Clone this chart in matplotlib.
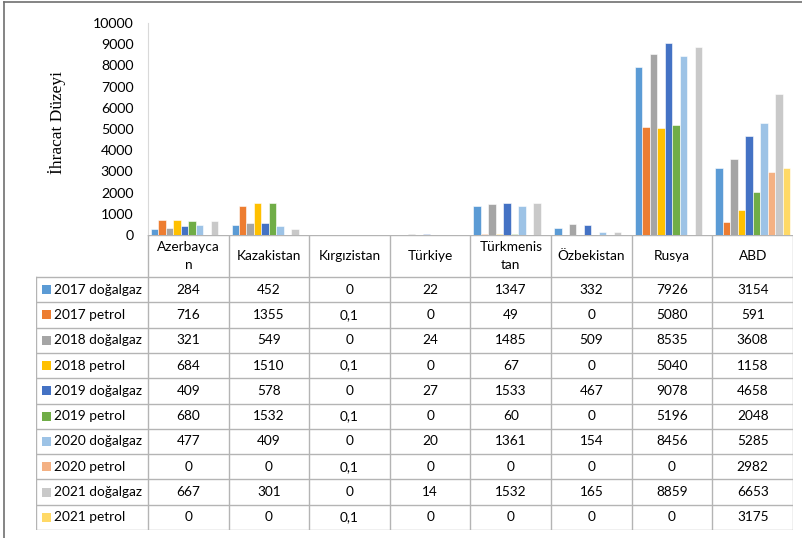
import matplotlib.pyplot as plt
from matplotlib.patches import Rectangle
from matplotlib.lines import Line2D
import numpy as np

countries = ["Azerbaycan", "Kazakistan", "Kırgızistan", "Türkiye",
             "Türkmenistan", "Özbekistan", "Rusya", "ABD"]
header_labels = ["Azerbayca\nn", "Kazakistan", "Kırgızistan", "Türkiye",
                 "Türkmenis\ntan", "Özbekistan", "Rusya", "ABD"]

series_names = ["2017 doğalgaz", "2017 petrol", "2018 doğalgaz", "2018 petrol",
                "2019 doğalgaz", "2019 petrol", "2020 doğalgaz", "2020 petrol",
                "2021 doğalgaz", "2021 petrol"]

gaz_2017 = [284, 452, 0, 22, 1347, 332, 7926, 3154]
petrol_2017 = [716, 1355, 0.1, 0, 49, 0, 5080, 591]
gaz_2018 = [321, 549, 0, 24, 1485, 509, 8535, 3608]
petrol_2018 = [684, 1510, 0.1, 0, 67, 0, 5040, 1158]
gaz_2019 = [409, 578, 0, 27, 1533, 467, 9078, 4658]
petrol_2019 = [680, 1532, 0.1, 0, 60, 0, 5196, 2048]
gaz_2020 = [477, 409, 0, 20, 1361, 154, 8456, 5285]
petrol_2020 = [0, 0, 0.1, 0, 0, 0, 0, 2982]
gaz_2021 = [667, 301, 0, 14, 1532, 165, 8859, 6653]
petrol_2021 = [0, 0, 0.1, 0, 0, 0, 0, 3175]

series_values = [gaz_2017, petrol_2017, gaz_2018, petrol_2018, gaz_2019,
                 petrol_2019, gaz_2020, petrol_2020, gaz_2021, petrol_2021]

colors = ["#5B9BD5", "#ED7D31", "#A5A5A5", "#FFC000", "#4472C4",
          "#70AD47", "#9DC3E6", "#F4B183", "#C9C9C9", "#FFD966"]

W, H = 803, 538
font = "Lato"
fs = 9.8
grid_col = "#b4b4b4"

fig = plt.figure(figsize=(W / 100, H / 100), dpi=100)

# outer frame (left and top only visible)
fig.add_artist(Line2D([4 / W, 4 / W], [0, 1 - 2 / H], color="#707070", lw=1.2))
fig.add_artist(Line2D([4 / W, 1], [1 - 2 / H, 1 - 2 / H], color="#707070", lw=1.2))

# bar chart
ax = fig.add_axes([148 / W, 1 - 235 / H, (793 - 148) / W, (235 - 23) / H])
n = len(series_names)
group = 0.928
bw = group / n
x = np.arange(len(countries))
for k, (name, vals) in enumerate(zip(series_names, series_values)):
    ax.bar(x - group / 2 + (k + 0.5) * bw, vals, bw, color=colors[k],
           edgecolor="white", linewidth=0.4, label=name)
ax.set_xlim(-0.5, len(countries) - 0.5)
ax.set_ylim(0, 10000)
ax.set_yticks(range(0, 10001, 1000))
ax.set_xticks([])
ax.tick_params(axis="y", length=0, pad=10.5, labelsize=10.2)
for lab in ax.get_yticklabels():
    lab.set_family(font)
for s in ["top", "right", "bottom"]:
    ax.spines[s].set_visible(False)
ax.spines["left"].set_color("#d9d9d9")

fig.text(57 / W, 1 - 123 / H, "İhracat Düzeyi", rotation=90, ha="center",
         va="center", family="Liberation Serif", fontsize=12.5)

# data table
cat_w = (793 - 148) / len(countries)
leg_w = (148 - 36) / cat_w
row_h = (530 - 277) / n
hdr_h = (277 - 235) / row_h
tab = fig.add_axes([36 / W, 1 - 530 / H, (793 - 36) / W, (530 - 235) / H])
tab.set_xlim(-0.5 - leg_w, len(countries) - 0.5)
tab.set_ylim(n, -hdr_h)
tab.axis("off")

tab.plot([-0.5, len(countries) - 0.5], [-hdr_h, -hdr_h], color=grid_col, lw=1)
for r in range(n + 1):
    tab.plot([-0.5 - leg_w, len(countries) - 0.5], [r, r], color=grid_col, lw=1)
tab.plot([-0.5 - leg_w, -0.5 - leg_w], [0, n], color=grid_col, lw=1)
for c in range(len(countries) + 1):
    tab.plot([c - 0.5, c - 0.5], [-hdr_h, n], color=grid_col, lw=1)

for c, lab in enumerate(header_labels):
    tab.text(c, -hdr_h / 2, lab, ha="center", va="center", family=font,
             fontsize=fs, linespacing=1.55)


def fmt(v):
    return f"{v:g}".replace(".", ",")


sq = 9 / cat_w
for r, (name, vals) in enumerate(zip(series_names, series_values)):
    x0 = -0.5 - leg_w + 6 / cat_w
    tab.add_patch(Rectangle((x0, r + 0.5 - 4.5 / row_h), sq, 9 / row_h,
                            color=colors[r], lw=0))
    tab.text(x0 + 12 / cat_w, r + 0.5, name, ha="left", va="center",
             family=font, fontsize=fs)
    for c, v in enumerate(vals):
        tab.text(c, r + 0.5, fmt(v), ha="center", va="center", family=font,
                 fontsize=fs)

fig.savefig("out.png", dpi=100)
